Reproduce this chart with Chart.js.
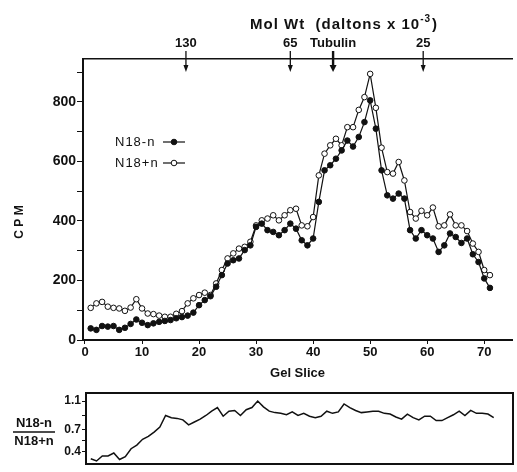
<!DOCTYPE html>
<html>
<head>
<meta charset="utf-8">
<script src="https://cdn.jsdelivr.net/npm/chart.js@4.4.1/dist/chart.umd.min.js"></script>
<style>
  body { margin: 0; background: #fff; }
  #wrap { position: relative; width: 517px; height: 472px; overflow: hidden; }
  #main { position: absolute; left: 0; top: 0; }
  #ratio { position: absolute; left: 0; top: 385px; }
</style>
</head>
<body>
<div id="wrap">
  <canvas id="main" width="517" height="385"></canvas>
  <canvas id="ratio" width="517" height="87"></canvas>
</div>
<script>
// gel slice numbers
const slices = [1, 2, 3, 4, 5, 6, 7, 8, 9, 10, 11, 12, 13, 14, 15, 16, 17, 18, 19, 20,
  21, 22, 23, 24, 25, 26, 27, 28, 29, 30, 31, 32, 33, 34, 35, 36, 37, 38, 39, 40,
  41, 42, 43, 44, 45, 46, 47, 48, 49, 50, 51, 52, 53, 54, 55, 56, 57, 58, 59, 60,
  61, 62, 63, 64, 65, 66, 67, 68, 69, 70, 71];

// CPM, N18-n (filled circles)
const cpmMinus = [39, 34, 47, 45, 47, 34, 41, 54, 69, 58, 50, 56, 61, 64, 67, 73, 77, 82, 92, 117,
  134, 147, 179, 218, 257, 268, 274, 302, 318, 380, 391, 369, 363, 352, 369, 391, 374, 335, 318, 341,
  464, 570, 587, 609, 637, 670, 650, 682, 732, 805, 710, 570, 486, 475, 492, 475, 369, 341, 369, 352,
  341, 296, 318, 358, 346, 326, 341, 288, 262, 207, 175];

// CPM, N18+n (open circles)
const cpmPlus = [108, 123, 128, 112, 108, 106, 98, 109, 137, 106, 89, 87, 82, 78, 78, 88, 97, 123, 140, 151,
  159, 151, 190, 235, 274, 291, 307, 313, 330, 385, 402, 408, 419, 402, 419, 436, 441, 385, 382, 413,
  553, 626, 654, 676, 654, 715, 715, 773, 816, 894, 780, 646, 564, 559, 598, 536, 430, 408, 434, 419,
  445, 382, 385, 422, 385, 385, 366, 324, 296, 235, 218];

// ratio N18-n / N18+n
const ratio = [0.30, 0.27, 0.34, 0.34, 0.38, 0.29, 0.33, 0.44, 0.49, 0.57,
  0.61, 0.67, 0.74, 0.90, 0.87, 0.86, 0.84, 0.77, 0.81, 0.85,
  0.90, 0.96, 1.01, 0.89, 0.96, 0.97, 0.90, 0.98, 1.01, 1.10,
  1.02, 0.96, 0.94, 0.93, 0.91, 0.95, 0.90, 0.93, 0.89, 0.87,
  0.89, 0.96, 0.93, 0.95, 1.06, 1.01, 0.97, 0.94, 0.95, 0.96,
  0.96, 0.93, 0.92, 0.88, 0.85, 0.92, 0.87, 0.84, 0.89, 0.89,
  0.83, 0.83, 0.87, 0.91, 0.96, 0.90, 0.97, 0.93, 0.93, 0.92, 0.87];

// mol wt markers along the top
const markerSlices = [17.7, 36, 43.5, 59.3];
const markerLabels = ["130", "65", "Tubulin", "25"];

const xTicks = [0, 10, 20, 30, 40, 50, 60, 70];
const yTicks = [0, 100, 200, 300, 400, 500, 600, 700, 800, 900];
const ratioTicks = [0.4, 0.55, 0.7, 0.9, 1.1];
const ratioLabels = [0.4, 0.7, 1.1];

const ink = "#111";
const FONT = "'Liberation Sans', Arial, sans-serif";
const tickFont = { family: FONT, size: 13, weight: "bold" };

function pts(values) {
  return slices.map((s, i) => ({ x: s, y: values[i] }));
}

// arrows, top title, CPM label, legend
const mainExtras = {
  id: "mainExtras",
  afterDraw(chart) {
    const ctx = chart.ctx;
    const top = chart.scales.xTop;
    ctx.save();
    ctx.strokeStyle = ink;
    ctx.fillStyle = ink;

    // arrows under each mol wt marker
    markerSlices.forEach((v, i) => {
      const px = top.getPixelForValue(v);
      const heavy = markerLabels[i] === "Tubulin";
      ctx.lineWidth = heavy ? 2.4 : 1.3;
      ctx.beginPath();
      ctx.moveTo(px, 51);
      ctx.lineTo(px, 66);
      ctx.stroke();
      const hw = heavy ? 3.5 : 2.5;
      ctx.beginPath();
      ctx.moveTo(px - hw, 65);
      ctx.lineTo(px + hw, 65);
      ctx.lineTo(px, 72);
      ctx.closePath();
      ctx.fill();
    });

    // Mol Wt (daltons x 10^-3)
    ctx.letterSpacing = "1px";
    ctx.font = "bold 15px " + FONT;
    ctx.textBaseline = "alphabetic";
    ctx.textAlign = "left";
    const part1 = "Mol Wt  (daltons x 10";
    let x = 250;
    ctx.fillText(part1, x, 29);
    x += ctx.measureText(part1).width;
    ctx.font = "bold 10px " + FONT;
    ctx.fillText("-3", x, 22);
    x += ctx.measureText("-3").width + 1;
    ctx.font = "bold 15px " + FONT;
    ctx.fillText(")", x, 29);
    ctx.letterSpacing = "0px";

    // CPM
    ctx.save();
    ctx.translate(20, 222);
    ctx.rotate(-Math.PI / 2);
    ctx.font = "bold 12px " + FONT;
    ctx.textAlign = "center";
    ctx.textBaseline = "middle";
    ctx.fillText("C P M", 0, 0);
    ctx.restore();

    // legend: text then line sample with marker
    const rows = [
      { text: "N18-n", y: 142, fill: ink },
      { text: "N18+n", y: 163, fill: "#fff" },
    ];
    rows.forEach((r) => {
      ctx.letterSpacing = "1px";
      ctx.font = "13px " + FONT;
      ctx.textAlign = "left";
      ctx.textBaseline = "middle";
      ctx.fillStyle = ink;
      ctx.fillText(r.text, 115, r.y);
      ctx.letterSpacing = "0px";
      ctx.lineWidth = 1.2;
      ctx.beginPath();
      ctx.moveTo(163, r.y);
      ctx.lineTo(185, r.y);
      ctx.stroke();
      ctx.beginPath();
      ctx.arc(174, r.y, 2.8, 0, Math.PI * 2);
      ctx.fillStyle = r.fill;
      ctx.fill();
      ctx.lineWidth = 1;
      ctx.stroke();
    });
    ctx.restore();
  },
};

new Chart(document.getElementById("main"), {
  type: "line",
  data: {
    datasets: [
      {
        label: "N18-n",
        data: pts(cpmMinus),
        borderColor: ink,
        borderWidth: 1.2,
        pointRadius: 2.8,
        pointBackgroundColor: ink,
        pointBorderColor: ink,
        pointBorderWidth: 1,
      },
      {
        label: "N18+n",
        data: pts(cpmPlus),
        borderColor: ink,
        borderWidth: 1.2,
        pointRadius: 2.8,
        pointBackgroundColor: "#fff",
        pointBorderColor: ink,
        pointBorderWidth: 1,
      },
    ],
  },
  options: {
    responsive: false,
    animation: false,
    layout: { padding: { left: 0, right: 1, top: 0, bottom: 0 } },
    plugins: { legend: { display: false }, tooltip: { enabled: false } },
    scales: {
      x: {
        type: "linear",
        min: -0.35,
        max: 74.87,
        afterBuildTicks: (s) => { s.ticks = xTicks.map((v) => ({ value: v })); },
        afterFit: (s) => { s.height = 45; },
        grid: { display: true, drawOnChartArea: false, tickLength: 4, color: ink },
        border: { color: ink, width: 2 },
        ticks: { color: ink, font: tickFont, padding: 1, maxRotation: 0, autoSkip: false },
        title: { display: true, text: "Gel Slice", color: ink, font: { family: FONT, size: 13, weight: "bold" }, padding: { top: 0, bottom: 4 } },
      },
      xTop: {
        type: "linear",
        position: "top",
        min: -0.35,
        max: 74.87,
        afterBuildTicks: (s) => { s.ticks = markerSlices.map((v) => ({ value: v })); },
        afterFit: (s) => { s.height = 59; },
        grid: { display: false, drawTicks: false },
        border: { color: ink, width: 1.5 },
        ticks: {
          color: ink,
          font: tickFont,
          padding: 8,
          maxRotation: 0,
          autoSkip: false,
          callback: (v, i) => markerLabels[i],
        },
      },
      y: {
        min: 0,
        max: 944,
        afterBuildTicks: (s) => { s.ticks = yTicks.map((v) => ({ value: v })); },
        afterFit: (s) => { s.width = 83; },
        grid: { display: true, drawOnChartArea: false, tickLength: 6, color: ink },
        border: { color: ink, width: 2 },
        ticks: {
          color: ink,
          font: { family: FONT, size: 14, weight: "bold" },
          padding: 1,
          callback: (v) => (v % 200 === 0 ? v : ""),
        },
      },
    },
  },
  plugins: [mainExtras],
});

// fraction label on the ratio panel
const ratioExtras = {
  id: "ratioExtras",
  afterDraw(chart) {
    const ctx = chart.ctx;
    ctx.save();
    ctx.fillStyle = ink;
    ctx.strokeStyle = ink;
    ctx.font = "bold 13px " + FONT;
    ctx.textAlign = "center";
    ctx.textBaseline = "middle";
    ctx.fillText("N18-n", 34, 38);
    ctx.lineWidth = 1.3;
    ctx.beginPath();
    ctx.moveTo(13, 47);
    ctx.lineTo(55, 47);
    ctx.stroke();
    ctx.fillText("N18+n", 34, 56);
    ctx.restore();
  },
};

new Chart(document.getElementById("ratio"), {
  type: "line",
  data: {
    datasets: [
      {
        label: "N18-n / N18+n",
        data: pts(ratio),
        borderColor: ink,
        borderWidth: 1.5,
        pointRadius: 0,
      },
    ],
  },
  options: {
    responsive: false,
    animation: false,
    layout: { padding: 0 },
    plugins: { legend: { display: false }, tooltip: { enabled: false } },
    scales: {
      x: {
        type: "linear",
        min: 0.17,
        max: 74.35,
        afterFit: (s) => { s.height = 2; },
        grid: { display: false },
        border: { color: ink, width: 2 },
        ticks: { display: false },
      },
      xTop: {
        type: "linear",
        position: "top",
        min: 0.17,
        max: 74.35,
        afterFit: (s) => { s.height = 4; },
        grid: { display: false },
        border: { color: ink, width: 2 },
        ticks: { display: false },
      },
      y: {
        min: 0.231,
        max: 1.209,
        afterBuildTicks: (s) => { s.ticks = ratioTicks.map((v) => ({ value: v })); },
        afterFit: (s) => { s.width = 86; },
        grid: { display: true, drawOnChartArea: false, tickLength: 4, color: ink },
        border: { color: ink, width: 2 },
        ticks: {
          color: ink,
          font: { family: FONT, size: 12, weight: "bold" },
          padding: 1,
          callback: (v) => (ratioLabels.some((r) => Math.abs(r - v) < 1e-6) ? v.toFixed(1) : ""),
        },
      },
      yRight: {
        position: "right",
        min: 0.231,
        max: 1.209,
        afterFit: (s) => { s.width = 4; },
        grid: { display: false },
        border: { color: ink, width: 2 },
        ticks: { display: false },
      },
    },
  },
  plugins: [ratioExtras],
});
</script>
</body>
</html>
